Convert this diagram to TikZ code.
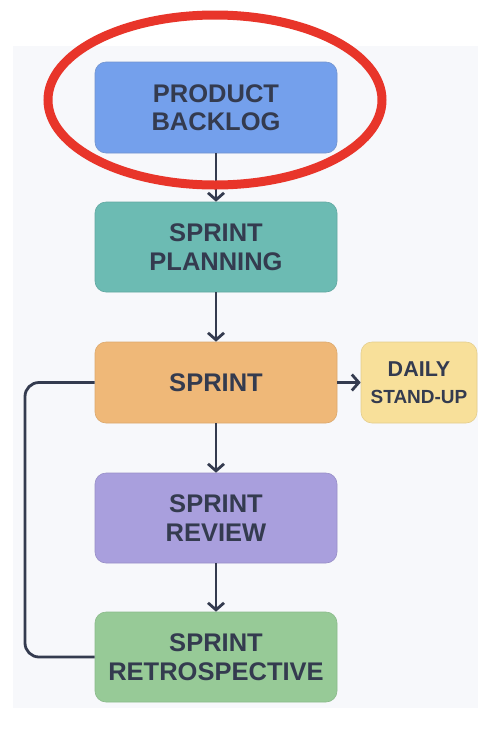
\documentclass[tikz,border=0pt]{standalone}
\usepackage{fontspec}
\setmainfont{Liberation Sans}
\usetikzlibrary{arrows.meta}
\definecolor{panel}{HTML}{F7F8FB}
\definecolor{ink}{HTML}{343B4F}
\definecolor{cblue}{HTML}{74A0EC}
\definecolor{cteal}{HTML}{6CBBB3}
\definecolor{corange}{HTML}{EFB878}
\definecolor{cyellow}{HTML}{F8E09A}
\definecolor{cpurple}{HTML}{A99FDD}
\definecolor{cgreen}{HTML}{97CA97}
\definecolor{cred}{HTML}{E8352A}
\tikzset{
  box/.style={rectangle, rounded corners=11pt, minimum width=242pt, minimum height=90pt,
    align=center, text=ink, font=\bfseries\fontsize{25.5}{28.5}\selectfont, inner sep=0pt},
  flow/.style={draw=ink, line width=2.8pt, -{Straight Barb[length=7pt,width=16pt,line width=2.8pt]}},
  loopline/.style={draw=ink, line width=2.8pt, rounded corners=14pt}
}
\begin{document}
\begin{tikzpicture}[x=1pt,y=-1pt]
\useasboundingbox (0,0) rectangle (478,732);
\fill[white] (0,0) rectangle (478,732);
\fill[panel] (13,46) rectangle (478,708);
\node[box, fill=cblue, draw=cblue!85!black!90, line width=0.6pt, minimum height=91pt] (backlog) at (216,107.5) {PRODUCT\\BACKLOG};
\node[box, fill=cteal, draw=cteal!90!black, line width=0.6pt] (planning) at (216,247) {SPRINT\\PLANNING};
\node[box, fill=corange, draw=corange!92!black, line width=0.6pt, minimum height=81pt] (sprint) at (216,382.5) {SPRINT};
\node[box, fill=cyellow, draw=cyellow!92!black, line width=0.6pt, minimum width=116pt, minimum height=81pt] (daily) at (419,382.5)
  {{\fontsize{21.5}{24}\selectfont DAILY}\\[-1pt]{\fontsize{19}{22}\selectfont STAND-UP}};
\node[box, fill=cpurple, draw=cpurple!90!black, line width=0.6pt] (review) at (216,518) {SPRINT\\REVIEW};
\node[box, fill=cgreen, draw=cgreen!92!black, line width=0.6pt] (retro) at (216,657) {SPRINT\\RETROSPECTIVE};
\coordinate (loopx) at (25,382.5);
\draw[flow] (backlog.south) -- (planning.north);
\draw[flow] (planning.south) -- (sprint.north);
\draw[flow] (sprint.south) -- (review.north);
\draw[flow] (review.south) -- (retro.north);
\draw[flow] (sprint.east) -- (daily.west);
\draw[loopline] (retro.west) -| (loopx) -- (sprint.west);
\draw[cred, line width=9pt] (215,100) ellipse [x radius=167, y radius=85];
\end{tikzpicture}
\end{document}
